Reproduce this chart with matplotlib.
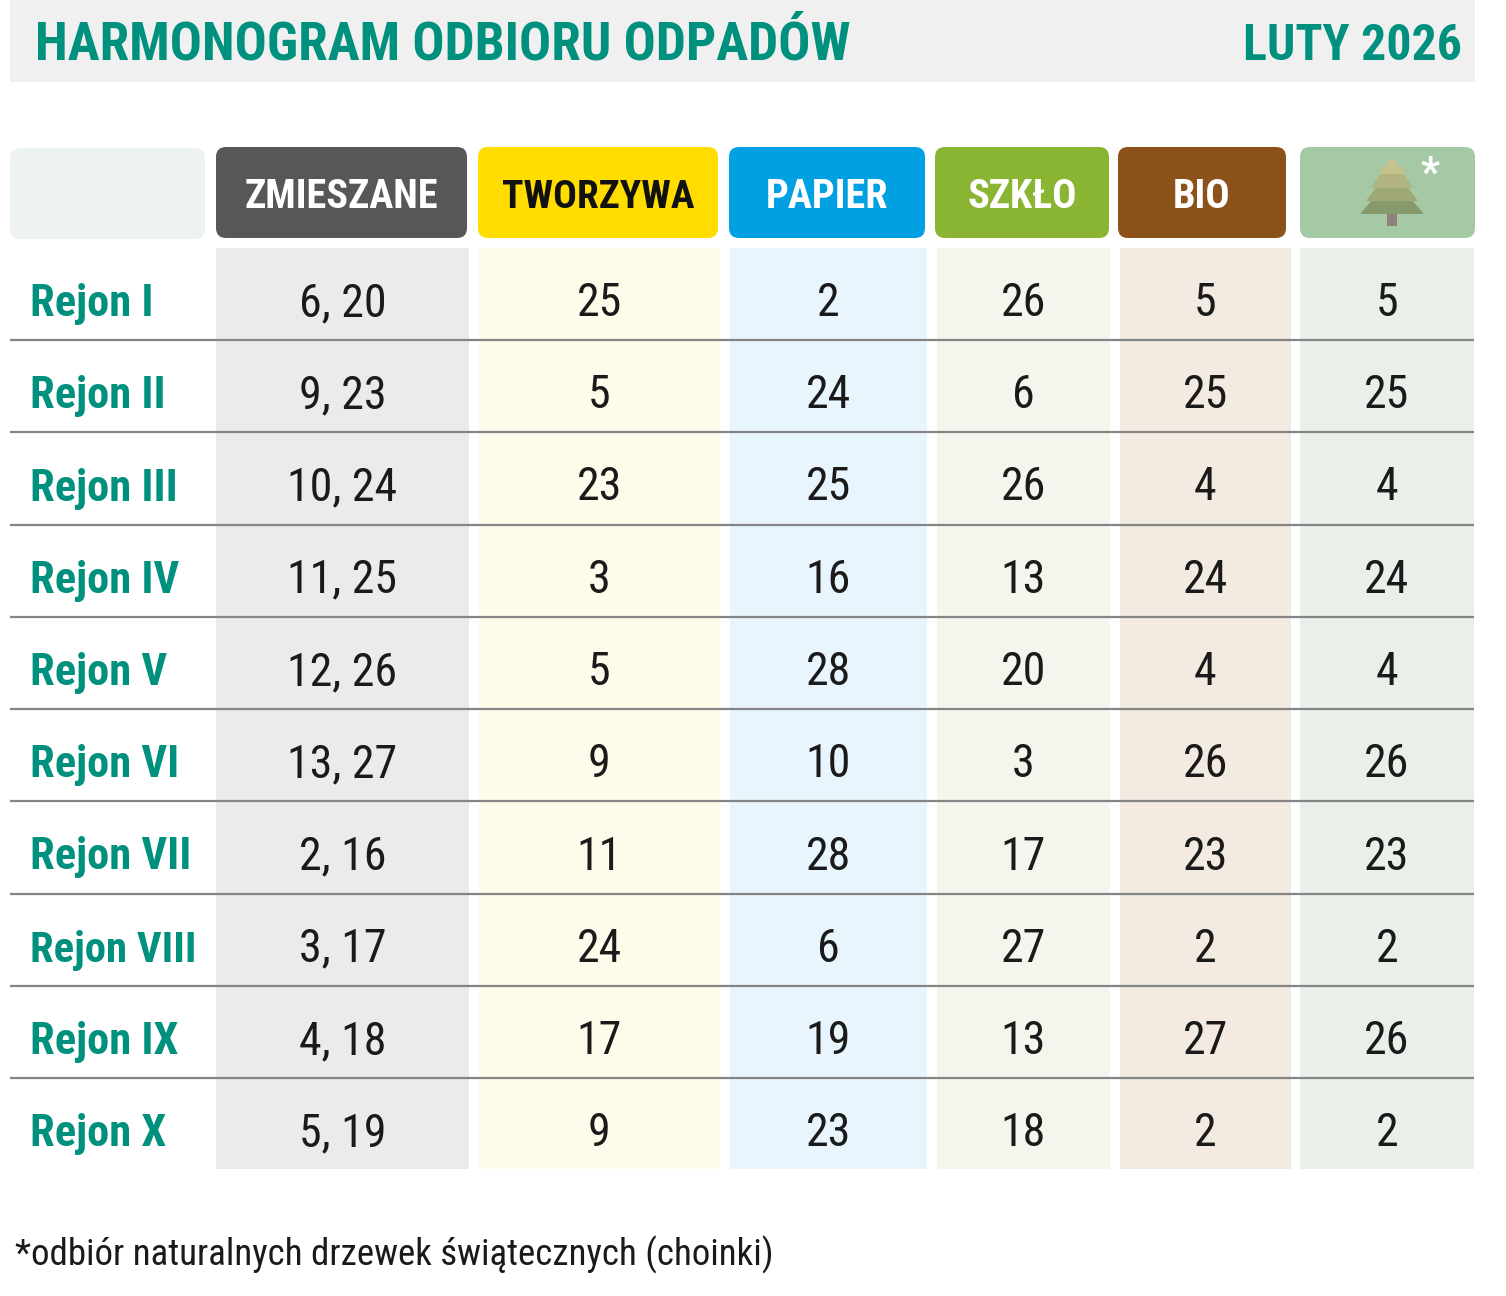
import matplotlib
matplotlib.use('Agg')
import matplotlib.pyplot as plt
from matplotlib.patches import FancyBboxPatch, Rectangle, Polygon
from matplotlib import font_manager

# --- data -------------------------------------------------------------
title = 'HARMONOGRAM ODBIORU ODPADÓW'
month = 'LUTY 2026'
footnote = '*odbiór naturalnych drzewek świątecznych (choinki)'

categories = ['ZMIESZANE', 'TWORZYWA', 'PAPIER', 'SZKŁO', 'BIO', '']
regions = ['Rejon I', 'Rejon II', 'Rejon III', 'Rejon IV', 'Rejon V',
           'Rejon VI', 'Rejon VII', 'Rejon VIII', 'Rejon IX', 'Rejon X']
zmieszane = ['6, 20', '9, 23', '10, 24', '11, 25', '12, 26',
             '13, 27', '2, 16', '3, 17', '4, 18', '5, 19']
tworzywa = [25, 5, 23, 3, 5, 9, 11, 24, 17, 9]
papier = [2, 24, 25, 16, 28, 10, 28, 6, 19, 23]
szklo = [26, 6, 26, 13, 20, 3, 17, 27, 13, 18]
bio = [5, 25, 4, 24, 4, 26, 23, 2, 27, 2]
choinki = [5, 25, 4, 24, 4, 26, 23, 2, 26, 2]

# --- style ------------------------------------------------------------
TEAL = '#00907e'
head_colors = ['#575757', '#ffdd00', '#00a0e3', '#8ab532', '#8b5319', '#a5c8a5']
head_text = ['white', '#111111', 'white', 'white', 'white', 'white']
body_colors = ['#ebebeb', '#fffbeb', '#e8f5fd', '#f4f6ee', '#f3ebe2', '#e8f0e9']
# column extents in pixels (header box, body)
head_x = [(216, 467), (478, 718), (729, 925), (935, 1109), (1118, 1286), (1300, 1475)]
body_x = [(216, 469), (479, 720), (730, 927), (937, 1110), (1120, 1291), (1300, 1474)]


def pick_font():
    names = {f.name for f in font_manager.fontManager.ttflist}
    for cand in ['Roboto Condensed', 'Liberation Sans Narrow', 'Open Sans Condensed',
                 'Arial Narrow', 'DejaVu Sans Condensed']:
        if cand in names:
            return cand
    return 'Roboto'


FONT = pick_font()
plt.rcParams['font.family'] = [FONT, 'DejaVu Sans']

W, H = 1506, 1296
fig = plt.figure(figsize=(W / 100, H / 100), dpi=100)
ax = fig.add_axes([0, 0, 1, 1])
ax.set_xlim(0, W)
ax.set_ylim(H, 0)
ax.axis('off')
renderer = fig.canvas.get_renderer()


def put(x, y, s, size, max_w=None, **kw):
    t = ax.text(x, y, s, fontsize=size, **kw)
    if max_w:
        w = t.get_window_extent(renderer).width
        if w > max_w:
            t.set_fontsize(size * max_w / w)
    return t


# title band
ax.add_patch(Rectangle((10, 0), 1465, 82, color='#f0f0f0', lw=0))
put(35, 60, title, 39, max_w=815, color=TEAL, fontweight='bold', va='baseline', ha='left')
put(1462, 60, month, 39, max_w=219, color=TEAL, fontweight='bold', va='baseline', ha='right')

# header row
ax.add_patch(FancyBboxPatch((10, 148), 195, 91, boxstyle='round,pad=0,rounding_size=10',
                            color='#edf3f2', lw=0))
for i, (x0, x1) in enumerate(head_x):
    ax.add_patch(FancyBboxPatch((x0, 147), x1 - x0, 91,
                                boxstyle='round,pad=0,rounding_size=10',
                                color=head_colors[i], lw=0))
    if categories[i]:
        put((x0 + x1) / 2, 208, categories[i], 29, max_w=(x1 - x0) * 0.8,
            color=head_text[i], fontweight='bold', ha='center', va='baseline')

# tree icon in the last header
tiers = [(158, 174, 2, 28, '#c4c28d'), (164, 188, 10, 42, '#b1b481'),
         (177, 201, 16, 52, '#9ea877'), (190, 214, 22, 64, '#879a6c')]
cx = 1392
ax.add_patch(Rectangle((cx - 5, 205), 10, 21, color='#8f8080', lw=0))
for y0, y1, wt, wb, c in reversed(tiers):
    ax.add_patch(Polygon([(cx - wt / 2, y0), (cx + wt / 2, y0), (cx + wb / 2, y1),
                          (cx - wb / 2, y1)], closed=True, color=c, lw=0))
ax.text(1430, 186, '*', fontsize=30, color='white', fontweight='bold', ha='center', va='baseline')

# body columns
for i, (x0, x1) in enumerate(body_x):
    ax.add_patch(Rectangle((x0, 248), x1 - x0, 921, color=body_colors[i], lw=0))

# row separators and values
row_top = 340
row_h = 92.25
columns = [zmieszane, tworzywa, papier, szklo, bio, choinki]
for r, name in enumerate(regions):
    base = 316 + r * row_h
    if r < len(regions) - 1:
        y = row_top + r * row_h
        ax.plot([10, 1474], [y, y], color='#858585', lw=1.6, solid_capstyle='butt')
    put(30, base, name, 32, max_w=167, color=TEAL, fontweight='bold', ha='left', va='baseline')
    for c, vals in enumerate(columns):
        x0, x1 = body_x[c]
        put((x0 + x1) / 2, base, str(vals[r]), 33, color='#1a1a1a', ha='center', va='baseline')

put(15, 1265, footnote, 27, max_w=755, color='#1a1a1a', ha='left', va='baseline')

fig.savefig('out.png', dpi=100)
